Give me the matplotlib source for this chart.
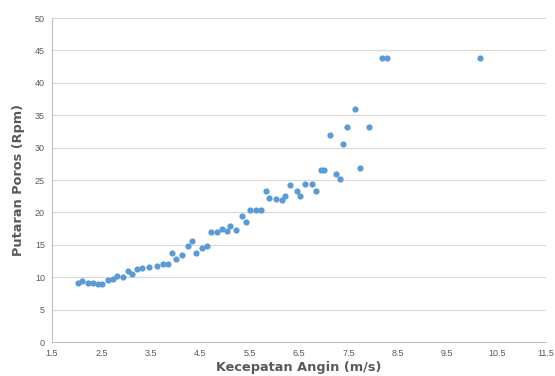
import matplotlib.pyplot as plt
import numpy as np

# wind speed (m/s) vs shaft rotation (rpm)
kecepatan = [2.03, 2.10, 2.23, 2.34, 2.44, 2.51, 2.64, 2.73, 2.82, 2.93,
             3.04, 3.12, 3.23, 3.33, 3.46, 3.62, 3.75, 3.85, 3.93, 4.02,
             4.13, 4.25, 4.33, 4.41, 4.53, 4.64, 4.71, 4.84, 4.94, 5.04,
             5.11, 5.22, 5.35, 5.43, 5.50, 5.63, 5.74, 5.83, 5.90, 6.03,
             6.16, 6.22, 6.32, 6.45, 6.53, 6.62, 6.76, 6.85, 6.94, 7.01,
             7.24, 7.32, 7.13, 7.40, 7.48, 7.64, 7.73, 7.92, 8.19, 8.28,
             10.17]
putaran = [9.06, 9.41, 9.06, 9.15, 8.90, 9.00, 9.57, 9.68, 10.19, 10.03,
           10.91, 10.54, 11.31, 11.47, 11.62, 11.77, 12.04, 12.04, 13.78, 12.81,
           13.43, 14.86, 15.59, 13.78, 14.46, 14.81, 16.93, 16.93, 17.49, 17.18,
           17.95, 17.24, 19.40, 18.57, 20.37, 20.37, 20.37, 23.26, 22.18, 22.12,
           21.87, 22.58, 24.23, 23.26, 22.58, 24.38, 24.38, 23.26, 26.54, 26.54,
           25.93, 25.20, 31.94, 30.60, 33.23, 35.96, 26.85, 33.23, 43.9, 43.9,
           43.9]

xticks = np.arange(1.5, 11.6, 1.0)
yticks = np.arange(0, 51, 5)

fig = plt.figure(figsize=(5.55, 3.76), dpi=100)
ax = fig.add_axes([0.0937, 0.0904, 0.8901, 0.8616])

ax.scatter(kecepatan, putaran, s=20, color='#5B9BD5', zorder=3, linewidths=0)

ax.set_xlim(1.5, 11.5)
ax.set_ylim(0, 50)
ax.set_xticks(xticks)
ax.set_xticklabels([('%g' % t) for t in xticks])
ax.set_yticks(yticks)

ax.yaxis.grid(True, color='#D9D9D9', linewidth=0.8)
ax.set_axisbelow(True)
for s in ['top', 'right']:
    ax.spines[s].set_visible(False)
for s in ['left', 'bottom']:
    ax.spines[s].set_color('#BFBFBF')
    ax.spines[s].set_linewidth(0.8)
ax.tick_params(length=0, labelsize=6.5, labelcolor='#595959', pad=5)
for lab in ax.get_xticklabels() + ax.get_yticklabels():
    lab.set_family('Liberation Sans')

ax.set_xlabel('Kecepatan Angin (m/s)', fontsize=9.3, fontweight='bold',
              color='#595959', labelpad=2)
ax.set_ylabel('Putaran Poros (Rpm)', fontsize=9.3, fontweight='bold',
              color='#595959', labelpad=7)

plt.savefig('out.png', dpi=100)
